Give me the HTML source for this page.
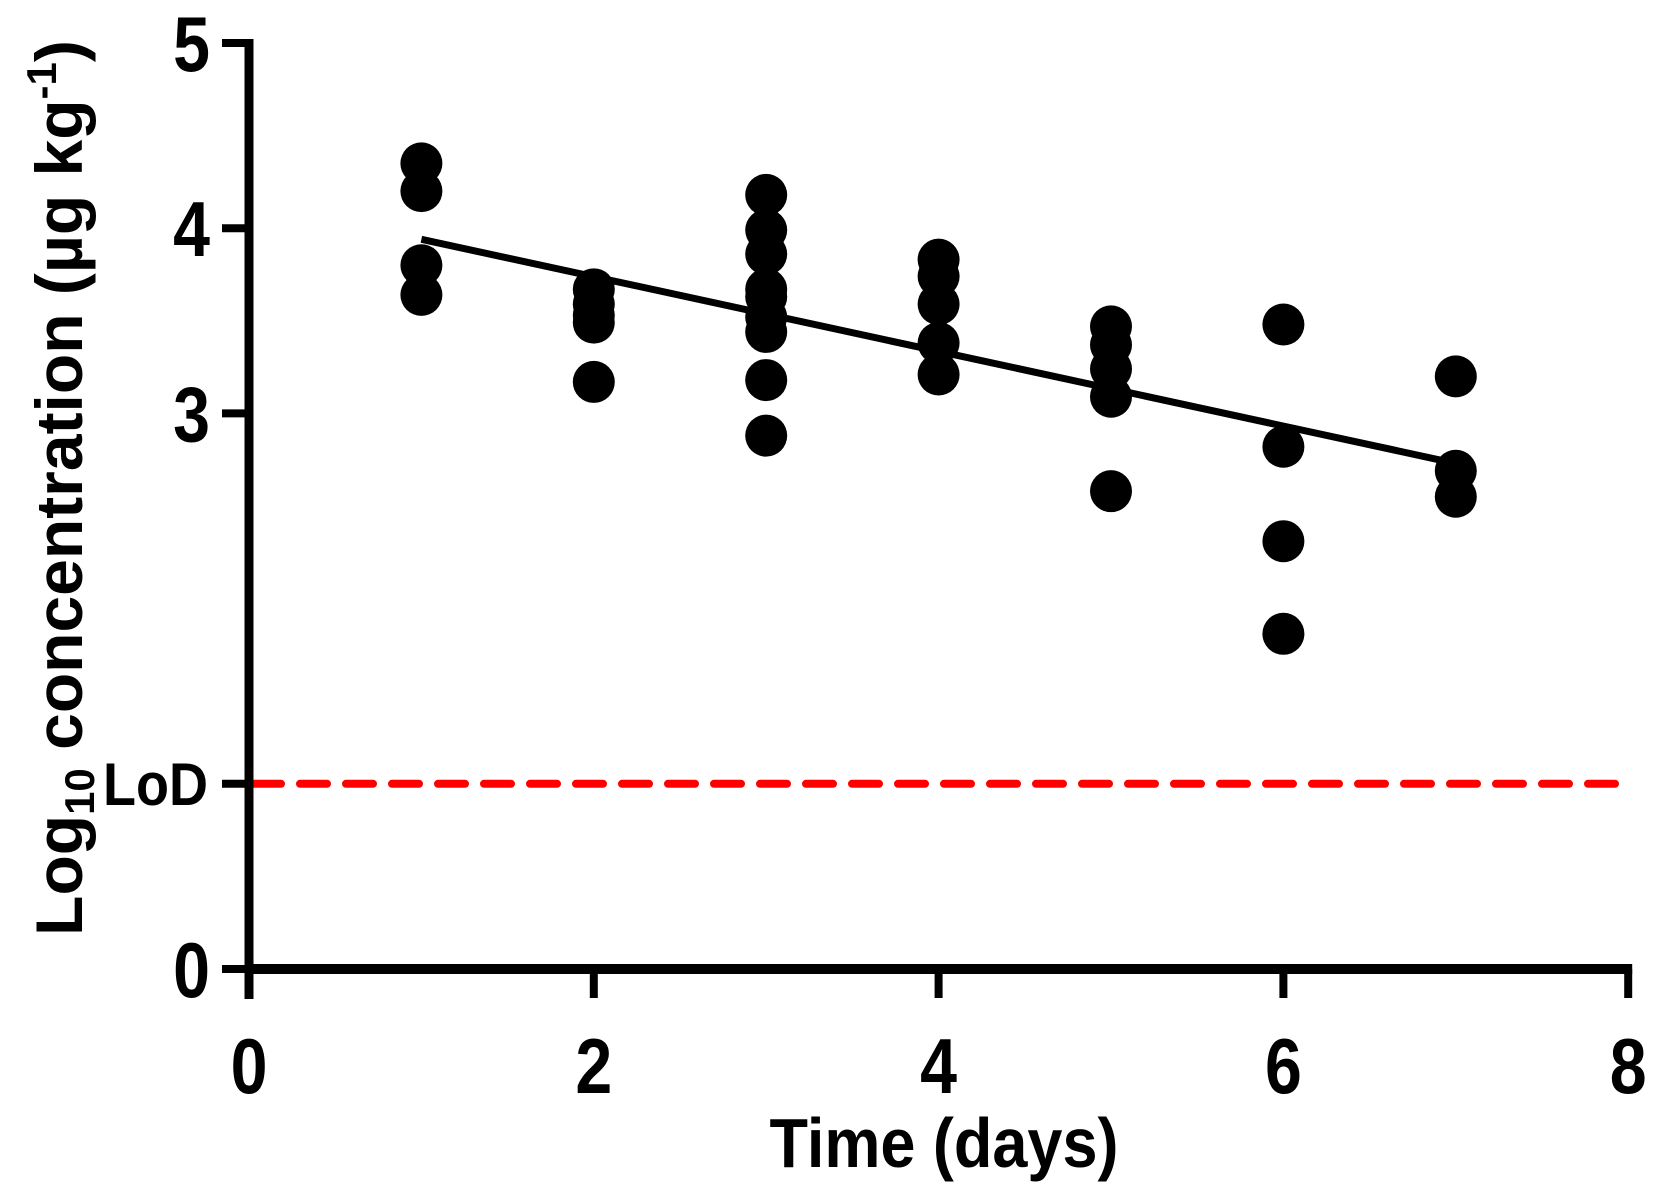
<!DOCTYPE html>
<html><head><meta charset="utf-8"><style>
html,body{margin:0;padding:0;background:#fff}
svg{display:block}
text{font-family:"Liberation Sans",Arial,sans-serif;font-weight:bold;fill:#000}
</style></head><body>
<svg width="1662" height="1189" viewBox="0 0 1662 1189">
<g id="plot"></g>
<script>
const days=[1,1,1,1,2,2,2,2,2,3,3,3,3,3,3,3,3,3,4,4,4,4,4,5,5,5,5,5,6,6,6,6,7,7,7];
const conc=[4.35,4.20,3.80,3.64,3.67,3.59,3.53,3.49,3.17,4.18,3.99,3.86,3.67,3.63,3.52,3.44,3.18,2.88,3.83,3.74,3.59,3.38,3.21,3.47,3.37,3.24,3.09,2.58,3.48,2.82,2.31,1.81,3.20,2.69,2.55];
const fitX=[1,7];
const fitY=[3.94,2.73];
const lod=[1];
const xTicks=[0,2,4,6,8];
const yTicks=[0,3,4,5];
const yTickLabels=["0","3","4","5"];
const NS="http://www.w3.org/2000/svg";
const X0=249,XS=172.4,Y0=969,YS=185.2;
const sx=v=>X0+v*XS, sy=v=>Y0-v*YS;
const g=document.getElementById('plot');
function mk(t,a,parent){const e=document.createElementNS(NS,t);for(const k in a)e.setAttribute(k,a[k]);(parent||g).appendChild(e);return e;}
function txt(x,y,s,anchor,size,sxf){const t=mk('text',{transform:'translate('+x+','+y+') scale('+sxf+',1)','text-anchor':anchor,'font-size':size});t.textContent=s;return t;}
// LoD line
lod.forEach(v=>{const l=mk('line',{x1:sx(0)+5,x2:sx(8)+5,y1:sy(v),y2:sy(v),stroke:'#ff0000','stroke-width':8,'stroke-dasharray':'27 19','stroke-linecap':'round'});


const t=txt(208,sy(v)+21,'LoD','end',60,0.9);


const tk=mk('line',{x1:222,x2:249,y1:sy(v),y2:sy(v),stroke:'#000','stroke-width':8});

});
// axes
const ya=mk('line',{x1:X0,x2:X0,y1:sy(5)-4,y2:Y0+30,stroke:'#000','stroke-width':9});


const xa=mk('line',{x1:X0-4,x2:sx(8)+4,y1:Y0,y2:Y0,stroke:'#000','stroke-width':10});


xTicks.forEach(v=>{const l=mk('line',{x1:sx(v),x2:sx(v),y1:Y0,y2:Y0+29,stroke:'#000','stroke-width':8});


const t=txt(sx(v),Y0+124,String(v),'middle',78,0.85);

});
yTicks.forEach((v,i)=>{const l=mk('line',{x1:222,x2:X0,y1:sy(v),y2:sy(v),stroke:'#000','stroke-width':8});


const t=txt(210,sy(v)+28,yTickLabels[i],'end',78,0.85);

});
// fit line
const fl=mk('line',{x1:sx(fitX[0]),y1:sy(fitY[0]),x2:sx(fitX[1]),y2:sy(fitY[1]),stroke:'#000','stroke-width':7});


// points
days.forEach((d,i)=>{const c=mk('circle',{cx:sx(d),cy:sy(conc[i]),r:21,fill:'#000'});

});
</script>
<text transform="translate(944,1167) scale(0.9,1)" text-anchor="middle" font-size="70">Time (days)</text>
<text transform="translate(82,488) rotate(-90)" text-anchor="middle" font-size="66">Log<tspan font-size="42" dy="12">10</tspan><tspan dy="-12"> concentration (µg kg</tspan><tspan font-size="42" dy="-26">-1</tspan><tspan dy="26">)</tspan></text>
</svg>
</body></html>
